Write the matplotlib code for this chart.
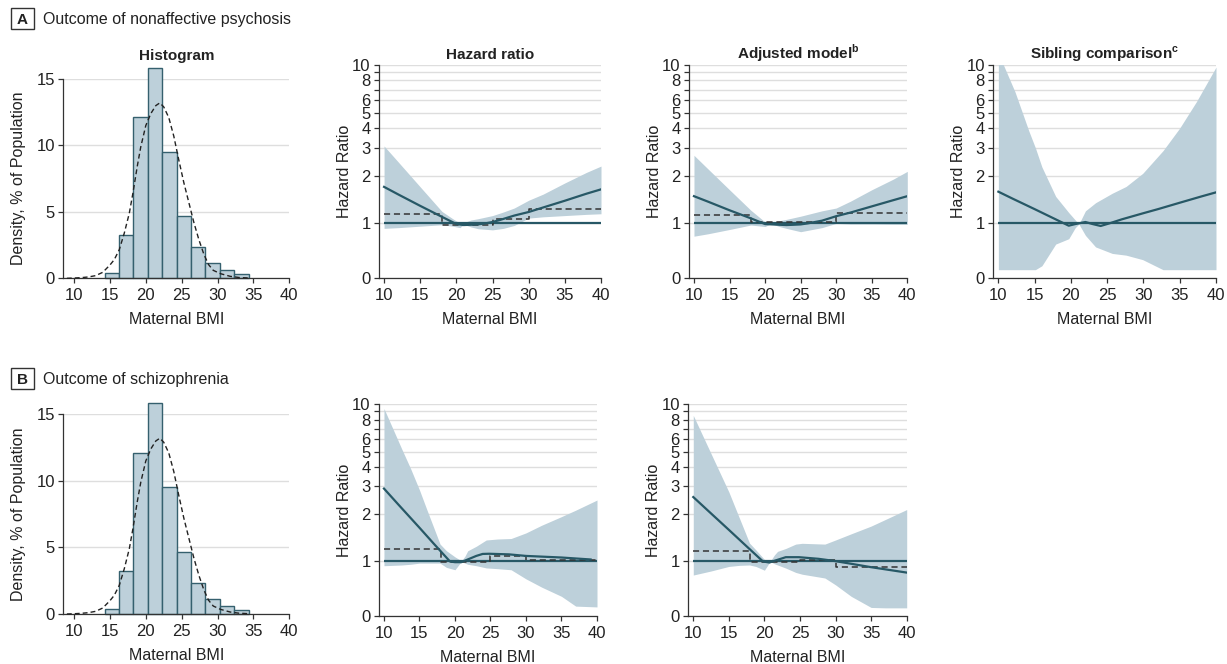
import matplotlib.pyplot as plt
from matplotlib.patches import Rectangle
from matplotlib.ticker import FixedLocator, NullLocator

plt.rcParams['font.family'] = ['Liberation Sans', 'DejaVu Sans']
plt.rcParams['mathtext.fontset'] = 'custom'
plt.rcParams['mathtext.rm'] = 'Liberation Sans'
plt.rcParams['mathtext.bf'] = 'Liberation Sans:bold'

W, H = 1227, 664
FILL = '#bdd0da'
LINE = '#275866'
EDGE = '#35606e'
DARK = '#333333'
GRID = '#dedede'

### histogram of maternal BMI (same for both outcomes) ###
bin_left = [14.25, 16.27, 18.25, 20.28, 22.3, 24.29, 26.3, 28.3, 30.3, 32.35]
bin_width = 2.01
bin_height = [0.4, 3.23, 12.12, 15.85, 9.54, 4.66, 2.35, 1.15, 0.6, 0.3]

fit_x = [9.0, 10, 11, 12, 13, 14, 15, 15.6, 16.3, 17.0, 17.7, 18.2, 18.8, 19.3, 20.0,
         20.7, 21.4, 21.95, 22.5, 23.2, 23.9, 24.6, 25.3, 26.0, 26.7, 27.4, 28.1,
         28.75, 29.4, 30.4, 31.75, 33, 34.5]
fit_y = [0.0, 0.02, 0.05, 0.1, 0.2, 0.45, 1.0, 1.4, 2.15, 3.4, 4.9, 6.4, 8.4, 9.9, 11.5,
         12.4, 13.0, 13.2, 12.9, 12.1, 10.7, 8.9, 7.2, 5.7, 4.2, 2.9, 1.8,
         1.03, 0.6, 0.35, 0.15, 0.06, 0.02]

### BMI categories (dashed step) and reference line ###
cat_edges = [10, 18, 25, 30, 40]
ref_span = [10, 40]
ref_hr = 1

### A: nonaffective psychosis, crude hazard ratio ###
a_hr_x = [10, 12, 15, 18, 20, 21, 22, 23, 24, 25, 26, 28, 30, 32, 35, 38, 40]
a_hr_y = [1.70, 1.52, 1.29, 1.10, 0.99, 0.976, 0.98, 0.985, 1.0, 1.02, 1.05, 1.12, 1.18,
          1.26, 1.39, 1.54, 1.64]
a_hr_band_x = [10, 12, 15, 18, 19.5, 20, 20.5, 21, 22, 23, 25, 26.5, 28, 30, 32, 35, 38, 40]
a_hr_hi = [3.08, 2.43, 1.70, 1.19, 1.07, 1.035, 1.01, 1.01, 1.05, 1.07, 1.12, 1.18, 1.25,
           1.40, 1.53, 1.80, 2.10, 2.30]
a_hr_lo = [0.93, 0.94, 0.96, 0.98, 0.96, 0.95, 0.94, 0.985, 0.95, 0.925, 0.91, 0.93, 0.97,
           1.08, 1.10, 1.12, 1.14, 1.15]
a_hr_cat = [1.15, 0.98, 1.06, 1.24]

### A: adjusted model ###
a_adj_x = [10, 12, 15, 18, 20, 21, 22, 23, 24, 25, 26, 28, 30, 32, 35, 38, 40]
a_adj_y = [1.485, 1.37, 1.21, 1.076, 0.99, 0.985, 0.98, 0.976, 0.98, 0.985, 1.0, 1.04,
           1.11, 1.17, 1.28, 1.40, 1.485]
a_adj_band_x = [10, 12, 15, 18, 20, 20.8, 21.3, 22, 23, 25, 28, 30, 32, 35, 38, 40]
a_adj_hi = [2.69, 2.20, 1.63, 1.21, 1.02, 1.0, 1.02, 1.04, 1.06, 1.11, 1.20, 1.25, 1.38,
            1.63, 1.90, 2.13]
a_adj_lo = [0.83, 0.86, 0.915, 0.976, 0.955, 0.995, 0.98, 0.955, 0.93, 0.886, 0.94, 1.0,
            0.99, 0.99, 0.986, 0.986]
a_adj_cat = [1.13, 1.024, 1.024, 1.16]

### A: sibling comparison ###
a_sib_x = [10, 12, 15, 18, 19.7, 20.6, 22, 23, 24.1, 25.3, 27, 30, 32, 35, 38, 40]
a_sib_y = [1.585, 1.43, 1.23, 1.055, 0.967, 0.99, 1.02, 0.99, 0.963, 1.0, 1.06, 1.16,
           1.23, 1.35, 1.48, 1.57]
a_sib_band_x = [10, 10.7, 12.3, 14.2, 15.1, 16.0, 17.9, 19.7, 20.6, 21.1, 22, 23.4, 25.7,
                27.6, 29.9, 32.7, 35, 37.3, 40]
a_sib_hi = [11.5, 10, 6.75, 3.83, 3.0, 2.27, 1.48, 1.17, 1.05, 0.99, 1.2, 1.35, 1.55,
            1.71, 2.07, 2.88, 4.0, 5.87, 9.7]
a_sib_lo = [0.51, 0.51, 0.51, 0.51, 0.51, 0.54, 0.74, 0.8, 0.94, 0.99, 0.84, 0.71, 0.646,
            0.63, 0.59, 0.51, 0.51, 0.51, 0.51]

### B: schizophrenia, crude hazard ratio ###
b_hr_x = [10, 12, 15, 17, 19.3, 20, 20.9, 21.8, 23, 23.9, 24.8, 27.6, 30, 35, 39.1]
b_hr_y = [2.91, 2.31, 1.64, 1.30, 1.0, 0.99, 0.99, 1.03, 1.085, 1.117, 1.12, 1.11, 1.085,
          1.06, 1.03]
b_hr_band_x = [10, 12.5, 13.75, 15, 16.05, 17.9, 18.8, 20.0, 20.9, 21.4, 21.8, 23, 24.4,
               26, 27.9, 30, 32.2, 35, 37, 40]
b_hr_hi = [9.4, 5.2, 3.9, 2.85, 2.13, 1.29, 1.17, 1.07, 1.01, 1.08, 1.17, 1.25, 1.37,
           1.39, 1.40, 1.52, 1.70, 1.93, 2.12, 2.46]
b_hr_lo = [0.94, 0.95, 0.96, 0.976, 0.976, 0.976, 0.917, 0.886, 1.0, 0.976, 0.96, 0.94,
           0.91, 0.90, 0.886, 0.775, 0.687, 0.6, 0.52, 0.514]
b_hr_cat = [1.195, 0.995, 1.085, 1.024]

### B: adjusted model ###
b_adj_x = [10, 12, 15, 17, 19.8, 20.7, 21.85, 23, 24.85, 27.6, 29.7, 32.2, 35, 40]
b_adj_y = [2.57, 2.12, 1.59, 1.31, 1.0, 0.985, 1.025, 1.065, 1.065, 1.04, 1.01, 0.967,
           0.92, 0.85]
b_adj_band_x = [10, 12.5, 15, 16.5, 17.9, 18.8, 20.0, 20.8, 21.4, 21.85, 23, 24.4, 25.3,
                28.5, 30, 32.2, 35, 37, 40]
b_adj_hi = [8.5, 4.85, 2.77, 1.88, 1.31, 1.185, 1.03, 1.0, 1.1, 1.16, 1.21, 1.29, 1.305,
            1.29, 1.37, 1.5, 1.68, 1.85, 2.14]
b_adj_lo = [0.82, 0.87, 0.93, 0.945, 0.95, 0.93, 0.88, 1.0, 0.967, 0.95, 0.908, 0.852,
            0.83, 0.785, 0.71, 0.6, 0.51, 0.507, 0.507]
b_adj_cat = [1.17, 0.995, 1.025, 0.925]

HR_TICKS = [0.45, 1, 2, 3, 4, 5, 6, 7, 8, 9, 10]
HR_LABELS = ['0', '1', '2', '3', '4', '5', '6', '', '8', '', '10']


def px_axes(fig, left, top, right, bottom):
    return fig.add_axes([left / W, 1 - bottom / H, (right - left) / W, (bottom - top) / H])


def style_axes(ax):
    for s in ('top', 'right'):
        ax.spines[s].set_visible(False)
    for s in ('left', 'bottom'):
        ax.spines[s].set_color(DARK)
        ax.spines[s].set_linewidth(0.9)
    ax.tick_params(length=3.6, width=0.9, color=DARK, labelsize=12, labelcolor='#222222')
    ax.tick_params(axis='y', pad=2.5)
    ax.set_xticks([10, 15, 20, 25, 30, 35, 40])
    ax.set_axisbelow(True)
    ax.yaxis.grid(True, color=GRID, lw=1)


def put_labels(ax, box, ylabel, ylab_off):
    left, top, right, bottom = box
    ax.set_xlabel('Maternal BMI', fontsize=11.5, color='#222222', va='top')
    ax.xaxis.set_label_coords(0.5, -34 / (bottom - top))
    ax.set_ylabel(ylabel, fontsize=11.5, color='#222222')
    ax.yaxis.set_label_coords(-ylab_off / (right - left), 0.5)


def title(ax, box, text, baseline):
    ax.set_title(text, fontsize=11, fontweight='bold', color='#222222',
                 pad=(box[1] - baseline) * 0.72)


def hist_panel(fig, box, ttl=None):
    ax = px_axes(fig, *box)
    style_axes(ax)
    ax.bar(bin_left, bin_height, width=bin_width, align='edge', color=FILL,
           edgecolor=EDGE, lw=1.0, clip_on=False, zorder=2)
    ax.plot(fit_x, fit_y, color='#222222', lw=1.0, ls=(0, (3.5, 2.2)), clip_on=False, zorder=3)
    ax.set_xlim(8.5, 40)
    ax.set_ylim(0, 15)
    ax.set_yticks([0, 5, 10, 15])
    put_labels(ax, box, 'Density, % of Population', 37.3)
    if ttl:
        title(ax, box, ttl, 60)
    return ax


def hr_panel(fig, box, cx, cy, bx, lo, hi, cat=None, ttl=None):
    ax = px_axes(fig, *box)
    style_axes(ax)
    ax.set_yscale('log')
    ax.fill_between(bx, lo, hi, color=FILL, lw=0, zorder=1)
    ax.hlines(ref_hr, ref_span[0], ref_span[1], color=LINE, lw=1.6, zorder=2)
    if cat is not None:
        ax.step(cat_edges, cat + [cat[-1]], where='post', color=DARK, lw=1.1,
                ls=(0, (4, 2.5)), zorder=3)
    ax.plot(cx, cy, color=LINE, lw=1.6, zorder=4)
    ax.set_xlim(9.3, 40)
    ax.set_ylim(0.45, 10)
    ax.yaxis.set_major_locator(FixedLocator(HR_TICKS))
    ax.yaxis.set_minor_locator(NullLocator())
    ax.set_yticklabels(HR_LABELS)
    put_labels(ax, box, 'Hazard Ratio', 27.3)
    if ttl:
        title(ax, box, ttl, 59)
    return ax


def header(fig, letter, text, top):
    fig.add_artist(Rectangle((11 / W, 1 - (top + 21) / H), 23.3 / W, 21 / H,
                             transform=fig.transFigure, fc='white', ec=DARK, lw=1))
    fig.text(22.6 / W, 1 - (top + 15.7) / H, letter, ha='center', va='baseline',
             fontsize=11, fontweight='bold', color='#222222')
    fig.text(42.7 / W, 1 - (top + 15.7) / H, text, ha='left', va='baseline',
             fontsize=11.5, color='#222222')


if __name__ == '__main__':
    fig = plt.figure(figsize=(W / 100, H / 100), dpi=100)

    header(fig, 'A', 'Outcome of nonaffective psychosis', 8.3)
    hist_panel(fig, (63.3, 79, 289.3, 278.3), 'Histogram')
    hr_panel(fig, (379, 65, 601, 278.3), a_hr_x, a_hr_y, a_hr_band_x, a_hr_lo, a_hr_hi,
             a_hr_cat, 'Hazard ratio')
    hr_panel(fig, (689, 65, 907.3, 278.3), a_adj_x, a_adj_y, a_adj_band_x, a_adj_lo,
             a_adj_hi, a_adj_cat, r'Adjusted model$^{\mathbf{b}}$')
    hr_panel(fig, (993.3, 65, 1216, 278.3), a_sib_x, a_sib_y, a_sib_band_x, a_sib_lo,
             a_sib_hi, None, r'Sibling comparison$^{\mathbf{c}}$')

    header(fig, 'B', 'Outcome of schizophrenia', 368.3)
    hist_panel(fig, (63.3, 414.3, 289.3, 614))
    hr_panel(fig, (379, 404.3, 597, 616), b_hr_x, b_hr_y, b_hr_band_x, b_hr_lo, b_hr_hi,
             b_hr_cat)
    hr_panel(fig, (688.3, 404.3, 906.7, 616), b_adj_x, b_adj_y, b_adj_band_x, b_adj_lo,
             b_adj_hi, b_adj_cat)

    fig.savefig('out.png', dpi=100)
